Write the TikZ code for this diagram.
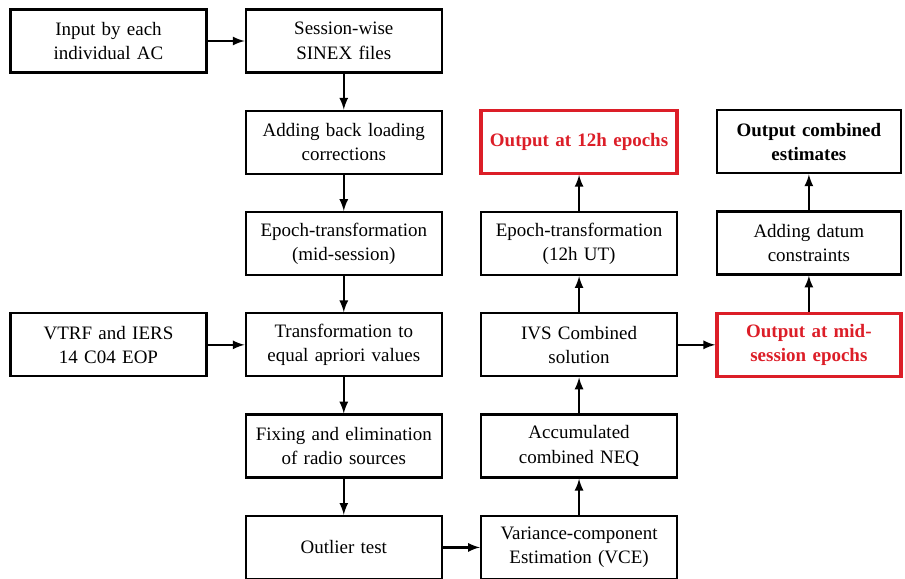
\documentclass[tikz,border=0pt]{standalone}
\usepackage{fontspec}
\setmainfont{Liberation Serif}
\usepackage{tikz}
\usetikzlibrary{positioning,shapes,arrows}
\definecolor{outred}{RGB}{220,30,40}

\begin{document}
\begin{tikzpicture}[
  node distance=0.72cm and 0.74cm,
  font=\fontsize{10.8}{13.9}\selectfont,
  mynode/.style={draw,rectangle,line width=1.3pt,text width=3.6cm,inner xsep=0.16cm,minimum height=1.26cm,align=center},
  mynoder/.style={mynode,draw=outred,line width=1.9pt,text=outred,font=\fontsize{10.8}{13.9}\selectfont\bfseries},
  myarrow/.style={-latex,line width=1.3pt}
]
\useasboundingbox (0,0) rectangle (18.1,11.58);

\node[mynode] (input) at (2.17,10.76) {Input by each\\individual AC};
\node[mynode, right=of input] (sinex) {Session-wise\\SINEX files};
\node[mynode, below=of sinex] (backload) {Adding back loading\\corrections};
\node[mynode, below=of backload] (epochmid) {Epoch-transformation\\(mid-session)};
\node[mynode, below=of epochmid] (apriori) {Transformation to\\equal apriori values};
\node[mynode, left=of apriori] (vtrf) {VTRF and IERS\\14 C04 EOP};
\node[mynode, below=of apriori] (fixing) {Fixing and elimination\\of radio sources};
\node[mynode, below=of fixing] (outlier) {Outlier test};
\node[mynode, right=of outlier] (vce) {Variance-component\\Estimation (VCE)};
\node[mynode, above=of vce] (neq) {Accumulated\\combined NEQ};
\node[mynode, above=of neq] (ivs) {IVS Combined\\solution};
\node[mynode, above=of ivs] (epoch12) {Epoch-transformation\\(12h UT)};
\node[mynoder, above=of epoch12] (out12) {Output at 12h epochs};
\node[mynoder, text width=3.36cm, right=of ivs] (outmid) {Output at mid-\\session epochs};
\node[mynode, text width=3.36cm, above=of outmid] (datum) {Adding datum\\constraints};
\node[mynode, text width=3.36cm, above=of datum, font=\fontsize{10.8}{13.9}\selectfont\bfseries] (outcomb) {Output combined\\estimates};

\path (input) edge[myarrow] (sinex)
(sinex) edge[myarrow] (backload)
(backload) edge[myarrow] (epochmid)
(epochmid) edge[myarrow] (apriori)
(vtrf) edge[myarrow] (apriori)
(apriori) edge[myarrow] (fixing)
(fixing) edge[myarrow] (outlier)
(outlier) edge[myarrow] (vce)
(vce) edge[myarrow] (neq)
(neq) edge[myarrow] (ivs)
(ivs) edge[myarrow] (epoch12)
(epoch12) edge[myarrow] (out12)
(ivs) edge[myarrow] (outmid)
(outmid) edge[myarrow] (datum)
(datum) edge[myarrow] (outcomb);
\end{tikzpicture}
\end{document}
